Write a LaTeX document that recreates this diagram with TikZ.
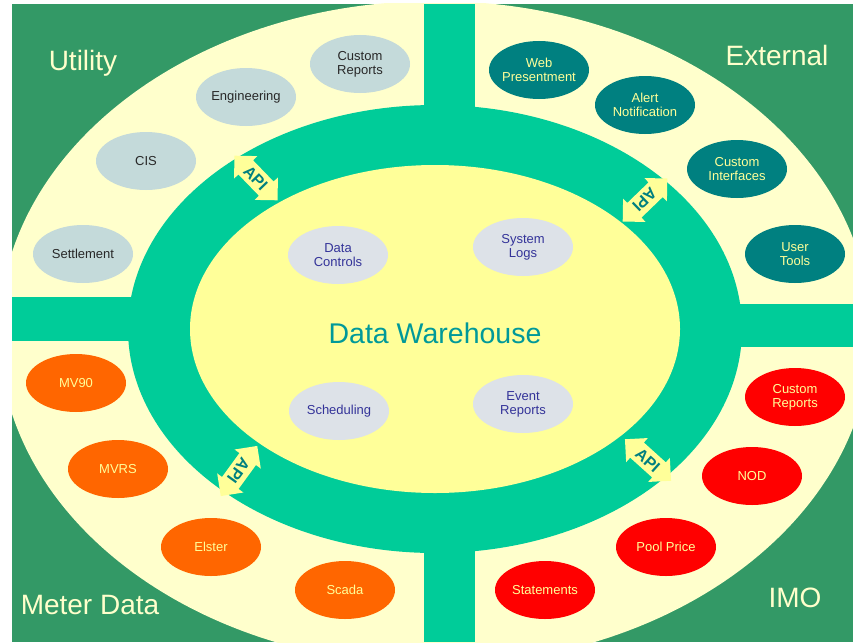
\documentclass[tikz,border=0pt]{standalone}
\usepackage{fontspec}
\setmainfont{Liberation Sans}
\usetikzlibrary{shapes.geometric,shapes.arrows}
\definecolor{bggreen}{RGB}{51,153,102}
\definecolor{cream}{RGB}{255,255,204}
\definecolor{ringc}{RGB}{0,204,153}
\definecolor{coreyel}{RGB}{255,255,153}
\definecolor{utilc}{RGB}{196,218,218}
\definecolor{utiltxt}{RGB}{40,40,40}
\definecolor{extc}{RGB}{0,128,128}
\definecolor{meterc}{RGB}{255,102,0}
\definecolor{imoc}{RGB}{255,0,0}
\definecolor{blobtxtc}{RGB}{255,255,153}
\definecolor{innerc}{RGB}{221,226,232}
\definecolor{innertxt}{RGB}{51,51,153}
\definecolor{dwtxt}{RGB}{0,153,153}
\definecolor{apitxt}{RGB}{0,128,128}
\begin{document}
\begin{tikzpicture}[x=1pt,y=-1pt,
  blob/.style={ellipse, minimum width=100pt, minimum height=58pt, inner sep=0pt, draw=none},
  btxt/.style={align=center, inner sep=0pt, font=\fontsize{13}{14}\selectfont},
  util/.style={blob, fill=utilc, label={[btxt,text=utiltxt]center:#1}},
  extn/.style={blob, fill=extc, label={[btxt,text=blobtxtc]center:#1}},
  meter/.style={blob, fill=meterc, label={[btxt,text=blobtxtc]center:#1}},
  imo/.style={blob, fill=imoc, label={[btxt,text=blobtxtc]center:#1}},
  inner/.style={blob, fill=innerc, label={[btxt,text=innertxt]center:#1}},
  corner/.style={text=cream, font=\fontsize{28}{30}\selectfont, inner sep=0pt},
  apiarrow/.style={double arrow, fill=coreyel, draw=none, minimum height=62pt,
    double arrow head extend=6pt, inner xsep=1pt, inner ysep=4pt,
    text height=12pt, text depth=0pt, text=apitxt,
    font=\bfseries\fontsize{16}{16}\selectfont}
]
\useasboundingbox (0,0) rectangle (853,642);
\fill[white] (0,0) rectangle (853,642);
\fill[bggreen] (12,4) rectangle (853,642);
\begin{scope}
  \clip (12,4) rectangle (853,642);
  \fill[cream] (435,333) ellipse [x radius=436, y radius=332];
\end{scope}
% cross bars and ring
\fill[ringc] (424,4) rectangle (475,642);
\fill[ringc] (12,297) rectangle (200,341);
\fill[ringc] (670,304) rectangle (853,347);
\fill[ringc] (435,329) ellipse [x radius=307, y radius=224];
\fill[coreyel] (435,329) ellipse [x radius=245, y radius=164];
\node[text=dwtxt, font=\fontsize{28.5}{30}\selectfont, inner sep=0pt] (dw) at (435,333) {Data Warehouse};

% corner labels
\node[corner] (lutil) at (83,63) {Utility};
\node[corner] (lext) at (777,55) {External};
\node[corner] (lmeter) at (90,605) {Meter Data};
\node[corner] (limo) at (795,598) {IMO};

% Utility
\node[util={Custom\\Reports}] (ucr) at (360,64) {};
\node[util={Engineering}] (ueng) at (246,97) {};
\node[util={CIS}] (ucis) at (146,161) {};
\node[util={Settlement}] (uset) at (83,254) {};

% External
\node[extn={Web\\Presentment}] (eweb) at (539,70) {};
\node[extn={Alert\\Notification}] (ealert) at (645,105) {};
\node[extn={Custom\\Interfaces}] (eci) at (737,169) {};
\node[extn={User\\Tools}] (eut) at (795,254) {};

% Meter Data
\node[meter={MV90}] (mv90) at (76,383) {};
\node[meter={MVRS}] (mvrs) at (118,469) {};
\node[meter={Elster}] (mel) at (211,547) {};
\node[meter={Scada}] (msc) at (345,590) {};

% IMO
\node[imo={Custom\\Reports}] (icr) at (795,397) {};
\node[imo={NOD}] (inod) at (752,476) {};
\node[imo={Pool Price}] (ipp) at (666,547) {};
\node[imo={Statements}] (ist) at (545,590) {};

% inner
\node[inner={Data\\Controls}] (dc) at (338,255) {};
\node[inner={System\\Logs}] (sl) at (523,247) {};
\node[inner={Scheduling}] (sch) at (339,411) {};
\node[inner={Event\\Reports}] (er) at (523,404) {};

% API arrows
\node[apiarrow, rotate=-46] (api1) at (256,178) {API};
\node[apiarrow, rotate=-136] (api2) at (645,200) {API};
\node[apiarrow, rotate=-126] (api3) at (239,471) {API};
\node[apiarrow, rotate=-42] (api4) at (648,460) {API};
\end{tikzpicture}
\end{document}
